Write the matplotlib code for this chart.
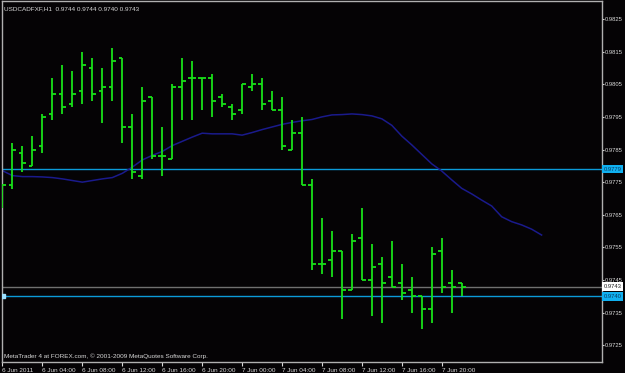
import matplotlib
matplotlib.use("Agg")
import matplotlib.pyplot as plt
import matplotlib.transforms as mtransforms
import pandas as pd

# hourly USDCAD bars, 6 Jun 2011 00:00 .. 7 Jun 2011 22:00
opens = [0.9768, 0.9774, 0.9784, 0.9780, 0.9786, 0.9796, 0.9802, 0.9799, 0.9803, 0.9810,
         0.9803, 0.9804, 0.9813, 0.9792, 0.9777, 0.9801, 0.9783, 0.9782, 0.9804, 0.9807,
         0.9807, 0.9807, 0.9801, 0.9798, 0.9797, 0.9804, 0.9805, 0.9800, 0.9797, 0.9785,
         0.9790, 0.9774, 0.9750, 0.9751, 0.9754, 0.9742, 0.9758, 0.9745, 0.9750, 0.9746,
         0.9744, 0.9742, 0.9740, 0.9736, 0.9754, 0.9744, 0.9744]
highs = [0.9774, 0.9787, 0.9786, 0.9789, 0.9796, 0.9807, 0.9811, 0.9809, 0.9815, 0.9813,
         0.9810, 0.9816, 0.9813, 0.9796, 0.9804, 0.9801, 0.9792, 0.9805, 0.9813, 0.9812,
         0.9807, 0.9808, 0.9802, 0.9799, 0.9805, 0.9808, 0.9807, 0.9803, 0.9801, 0.9794,
         0.9795, 0.9776, 0.9764, 0.9760, 0.9754, 0.9759, 0.9767, 0.9756, 0.9752, 0.9757,
         0.9750, 0.9746, 0.9740, 0.9755, 0.9758, 0.9748, 0.9744]
lows = [0.9767, 0.9773, 0.9778, 0.9780, 0.9784, 0.9794, 0.9796, 0.9798, 0.9799, 0.9800,
        0.9793, 0.9800, 0.9787, 0.9776, 0.9776, 0.9782, 0.9777, 0.9782, 0.9794, 0.9794,
        0.9797, 0.9795, 0.9798, 0.9794, 0.9796, 0.9803, 0.9797, 0.9797, 0.9785, 0.9785,
        0.9774, 0.9748, 0.9747, 0.9746, 0.9733, 0.9742, 0.9745, 0.9734, 0.9732, 0.9743,
        0.9739, 0.9735, 0.9730, 0.9732, 0.9741, 0.9735, 0.9740]
closes = [0.9774, 0.9785, 0.9781, 0.9785, 0.9795, 0.9802, 0.9798, 0.9802, 0.9811, 0.9802,
          0.9804, 0.9812, 0.9792, 0.9778, 0.9800, 0.9783, 0.9783, 0.9804, 0.9806, 0.9807,
          0.9807, 0.9800, 0.9799, 0.9796, 0.9805, 0.9805, 0.9799, 0.9797, 0.9786, 0.9790,
          0.9774, 0.9750, 0.9750, 0.9754, 0.9742, 0.9757, 0.9745, 0.9749, 0.9744, 0.9743,
          0.9741, 0.9740, 0.9736, 0.9753, 0.9743, 0.9743, 0.9743]

# shifted moving average (runs past the last bar)
ma = [0.97785, 0.97770, 0.97767, 0.97767, 0.97766, 0.97764, 0.97760, 0.97755, 0.97750, 0.97755,
      0.97760, 0.97764, 0.97777, 0.97796, 0.97818, 0.97832, 0.97844, 0.97862, 0.97875, 0.97888,
      0.97900, 0.97898, 0.97898, 0.97898, 0.97894, 0.97902, 0.97911, 0.97919, 0.97927, 0.97933,
      0.97938, 0.97942, 0.97950, 0.97956, 0.97957, 0.97959, 0.97957, 0.97953, 0.97944, 0.97924,
      0.97891, 0.97864, 0.97835, 0.97806, 0.97784, 0.97757, 0.97731, 0.97714, 0.97695, 0.97677,
      0.97644, 0.97629, 0.97619, 0.97606, 0.97588]

level_hi = 0.9779
level_lo = 0.9740
bid = 0.9743
price_ticks = [0.9725, 0.9735, 0.9745, 0.9755, 0.9765, 0.9775, 0.9785, 0.9795, 0.9805, 0.9815, 0.9825]

times = pd.date_range("2011-06-06 00:00", periods=len(opens), freq="h")
x = list(range(len(opens)))

plt.rcParams['font.family'] = ['Liberation Sans', 'DejaVu Sans']
fg = '#d8d8d8'
green = '#18e018'
fs = 4.6    # header / footer / time labels
fs_y = 4.2  # price scale

fig = plt.figure(figsize=(6.25, 3.73), dpi=100, facecolor='#050305')
ax = fig.add_axes([2/625, 11/373, 600/625, 361/373], facecolor='#050305')

# horizontal lines
ax.axhline(level_hi, color='#0b9ad8', lw=1.0, zorder=1)
ax.axhline(level_lo, color='#0b9ad8', lw=1.0, zorder=1)
ax.axhline(bid, color='#707070', lw=1.0, zorder=1)
ax.plot([0.1], [level_lo], marker='s', ms=2.5, color='#9fe0ff', zorder=3)

# moving average
ax.plot(range(len(ma)), ma, color='#1a1a8c', lw=1.1, zorder=2)

# OHLC bars
ax.vlines(x, lows, highs, color=green, lw=1.3, zorder=4)
ax.hlines(opens, [i - 0.38 for i in x], x, color=green, lw=1.3, zorder=4)
ax.hlines(closes, x, [i + 0.38 for i in x], color=green, lw=1.3, zorder=4)

ax.set_xlim(-0.05, 60.05)
ax.set_ylim(0.97199, 0.98305)

for s in ax.spines.values():
    s.set_color('#b0b0b0')
    s.set_linewidth(1.0)

ax.yaxis.tick_right()
ax.set_yticks(price_ticks)
ax.set_yticklabels([f"{p:.4f}" for p in price_ticks])
ax.tick_params(axis='y', colors=fg, labelsize=fs_y, length=1.5, width=0.8, pad=0.6)

xt = x[::4]
xl = []
for t in times[::4]:
    if t.hour == 0 and t.day == 6:
        xl.append(f"{t.day} {t.strftime('%b %Y')}")
    else:
        xl.append(f"{t.day} {t.strftime('%b %H:%M')}")
ax.set_xticks(xt)
ax.set_xticklabels(xl, ha='left')
ax.tick_params(axis='x', colors=fg, labelsize=fs, length=3, width=0.8, pad=1)

# price label boxes on the right
trans = mtransforms.blended_transform_factory(ax.transAxes, ax.transData)
for lvl, fc, tc in [(level_hi, '#10b0f0', '#0a3a60'), (level_lo, '#10b0f0', '#0a3a60'),
                    (bid, 'white', '#202020')]:
    ax.text(1.003, lvl, f"{lvl:.4f}", transform=trans, fontsize=fs_y, color=tc,
            va='center', ha='left', clip_on=False,
            bbox=dict(boxstyle='square,pad=0.3', fc=fc, ec='none'))

# header and footer
ax.text(0.004, 0.985, "USDCADFXF,H1  0.9744 0.9744 0.9740 0.9743", transform=ax.transAxes,
        fontsize=fs, color=fg, va='top', ha='left')
ax.text(0.004, 0.008, "MetaTrader 4 at FOREX.com, \u00a9 2001-2009 MetaQuotes Software Corp.",
        transform=ax.transAxes, fontsize=fs, color=fg, va='bottom', ha='left')

fig.savefig("out.png", dpi=100, facecolor=fig.get_facecolor())
